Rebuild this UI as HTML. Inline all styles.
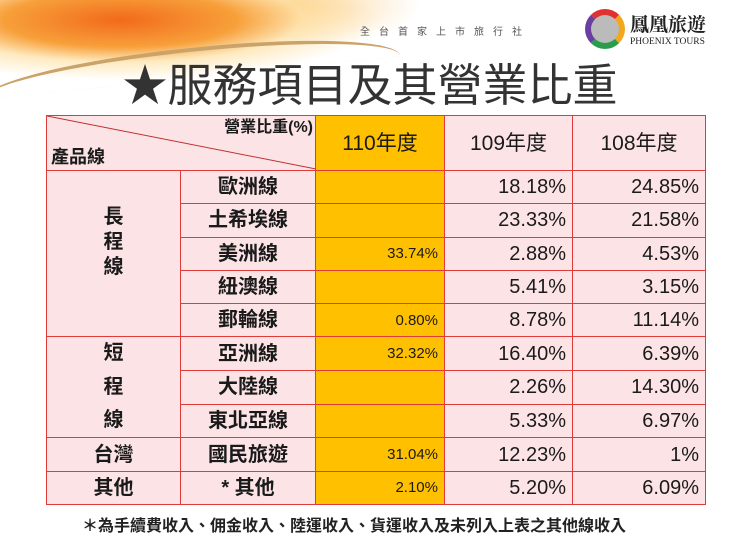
<!DOCTYPE html>
<html><head><meta charset="utf-8">
<style>
*{margin:0;padding:0;box-sizing:border-box}
body{width:740px;height:553px;overflow:hidden;background:#fff;position:relative;font-family:"Liberation Sans","Noto Sans CJK TC",sans-serif;color:#1a1a1a}
.banner{position:absolute;left:0;top:0;width:740px;height:110px;
background:radial-gradient(ellipse 260px 60px at 120px 20px,#f26a1b 0%,#f7a03a 45%,rgba(255,220,150,0.6) 70%,rgba(255,255,255,0) 100%),
radial-gradient(ellipse 120px 40px at 300px 5px,rgba(250,200,120,.7),rgba(255,255,255,0));}
.swoosh{position:absolute;left:-20px;top:48px;width:420px;height:30px;border-top:4px solid #c9a36a;border-radius:50% 50% 0 0/100% 100% 0 0;transform:rotate(-6deg)}
table{position:absolute;left:46px;top:115px;border-collapse:collapse;table-layout:fixed}
td{border:1px solid #e03a3a;background:#fce4e6;font-size:20px;text-align:center;height:33.3px;padding:0 6px;line-height:1;font-weight:bold;font-family:"Liberation Sans","Noto Sans CJK TC",sans-serif}
td.num{text-align:right;font-size:20px;font-weight:normal}
td.o{background:#ffc000;text-align:right;font-size:15px;font-weight:normal}
td.h{font-size:21px;font-weight:normal}
</style></head><body>
<div class="banner"></div>
<div class="swoosh"></div>
<div style="position:absolute;left:360px;top:23px;font-size:10px;letter-spacing:9px;color:#555">全台首家上市旅行社</div>
<div style="position:absolute;left:585px;top:9px;width:40px;height:40px;border-radius:50%;border:6px solid;border-color:#e0302f #f2a81d #2b9d4a #6a3fa0;background:#bbb"></div>
<div style="position:absolute;left:630px;top:10px;font-size:19px;font-weight:bold;font-family:'Liberation Serif','Noto Serif CJK SC',serif;color:#222">鳳凰旅遊</div>
<div style="position:absolute;left:630px;top:37px;font-size:9.5px;font-family:'Liberation Serif',serif;color:#222">PHOENIX TOURS</div>
<div style="position:absolute;left:0;width:740px;top:60px;text-align:center;font-size:45px;color:#333;line-height:52px">★服務項目及其營業比重</div>
<table>
<colgroup><col style="width:134px"><col style="width:135px"><col style="width:129px"><col style="width:128px"><col style="width:133px"></colgroup>
<tr style="height:55px">
<td colspan="2" style="position:relative;height:55px">
<svg width="269" height="55" style="position:absolute;left:0;top:0"><line x1="0" y1="0" x2="269" y2="53" stroke="#c03030" stroke-width="1"/></svg>
<span style="position:absolute;right:2px;top:4px;font-size:16px;font-weight:bold">營業比重(%)</span>
<span style="position:absolute;left:4px;bottom:4px;font-size:18px">產品線</span></td>
<td class="h" style="background:#ffc000">110年度</td>
<td class="h">109年度</td>
<td class="h">108年度</td></tr>
<tr><td rowspan="5" style="vertical-align:top;padding-top:34px;line-height:25px">長<br>程<br>線</td><td>歐洲線</td><td class="o"></td><td class="num">18.18%</td><td class="num">24.85%</td></tr>
<tr><td>土希埃線</td><td class="o"></td><td class="num">23.33%</td><td class="num">21.58%</td></tr>
<tr><td>美洲線</td><td class="o">33.74%</td><td class="num">2.88%</td><td class="num">4.53%</td></tr>
<tr><td>紐澳線</td><td class="o"></td><td class="num">5.41%</td><td class="num">3.15%</td></tr>
<tr><td>郵輪線</td><td class="o">0.80%</td><td class="num">8.78%</td><td class="num">11.14%</td></tr>
<tr><td rowspan="3" style="line-height:33.3px">短<br>程<br>線</td><td>亞洲線</td><td class="o">32.32%</td><td class="num">16.40%</td><td class="num">6.39%</td></tr>
<tr><td>大陸線</td><td class="o"></td><td class="num">2.26%</td><td class="num">14.30%</td></tr>
<tr><td>東北亞線</td><td class="o"></td><td class="num">5.33%</td><td class="num">6.97%</td></tr>
<tr><td>台灣</td><td>國民旅遊</td><td class="o">31.04%</td><td class="num">12.23%</td><td class="num">1%</td></tr>
<tr><td>其他</td><td>* 其他</td><td class="o">2.10%</td><td class="num">5.20%</td><td class="num">6.09%</td></tr>
</table>
<div style="position:absolute;left:82px;top:512px;font-size:16px;font-weight:bold;color:#222">＊為手續費收入、佣金收入、陸運收入、貨運收入及未列入上表之其他線收入</div>
</body></html>
